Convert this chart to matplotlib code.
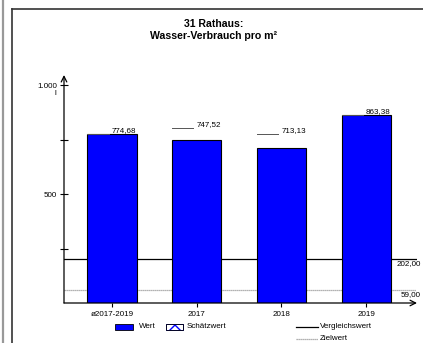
import matplotlib.pyplot as plt
from matplotlib.patches import Rectangle
from matplotlib.lines import Line2D

plt.rcParams['font.family'] = ['Liberation Sans', 'DejaVu Sans']

categories = ['ø2017-2019', '2017', '2018', '2019']
values = [774.68, 747.52, 713.13, 863.38]
vergleichswert = 202.0
zielwert = 59.0
title = '31 Rathaus:\nWasser-Verbrauch pro m²'

W, H = 423, 343

def fx(px):
    return px / W

def fy(py):
    return 1 - py / H

def fmt(v):
    return f'{v:,.2f}'.replace(',', 'X').replace('.', ',').replace('X', '.')

fig = plt.figure(figsize=(W / 100, H / 100), dpi=100)

# outer frame
fig.add_artist(Line2D([fx(3), fx(3)], [0, 1], color='#999999', lw=1.6))
fig.add_artist(Line2D([fx(11.5), fx(11.5)], [0, fy(9)], color='#333333', lw=1.2))
fig.add_artist(Line2D([fx(11.5), 1], [fy(9), fy(9)], color='#333333', lw=1.2))

fig.text(fx(214), fy(30), title, ha='center', va='center', fontsize=7.6,
         fontweight='bold', linespacing=1.2)

ax_w = 417 - 64
ax = fig.add_axes([fx(64), fy(303), fx(417) - fx(64), fy(75) - fy(303)])
x = list(range(len(categories)))
ax.bar(x, values, width=0.58, color='#0000ff', edgecolor='black', lw=0.8, zorder=3)
ax.set_xlim(-0.567, 3.6)
ax.set_ylim(0, 1046)

ax.axhline(vergleichswert, xmax=1 - 1 / ax_w, color='black', lw=0.9, zorder=1)
ax.axhline(zielwert, xmax=1 - 1 / ax_w, color='#999999', lw=0.9, ls=(0, (1, 0.6)), zorder=1)

for s in ax.spines.values():
    s.set_visible(False)
ax.annotate('', xy=(0, 1), xytext=(0, 0), xycoords='axes fraction',
            arrowprops=dict(arrowstyle='->', lw=0.9, color='black', shrinkA=0, shrinkB=0))
ax.annotate('', xy=(1, 0), xytext=(0, 0), xycoords='axes fraction',
            arrowprops=dict(arrowstyle='->', lw=0.9, color='black', shrinkA=0, shrinkB=0))

ax.set_yticks([500, 1000])
ax.set_yticklabels(['500', '1.000'])
ax.set_yticks([250, 750], minor=True)
ax.tick_params(axis='y', which='both', direction='inout', length=6, width=0.8,
               labelsize=5.8, pad=2)
ax.set_xticks(x)
ax.set_xticklabels(categories)
ax.tick_params(axis='x', direction='out', length=3, width=0.8, labelsize=5.8, pad=3)
ax.text(-9 / ax_w, 1000 - 38, 'l', transform=ax.get_yaxis_transform(), ha='center',
        va='center', fontsize=5.8)

# value labels with leader lines
label_lift = [0, 55, 62, 0]
for xi, v, lift in zip(x, values, label_lift):
    yl = v + lift
    right = xi + 0.29
    ax.text(right, yl + 1, fmt(v), ha='right', va='bottom', fontsize=5.8, zorder=4)
    ax.plot([xi - 0.29, right - 0.33], [yl, yl], color='#555555', lw=0.7, zorder=4)

# reference value labels (kept inside the canvas)
for val in [vergleichswert, zielwert]:
    ax.text((421 - 64) / ax_w, val - 6, fmt(val), transform=ax.get_yaxis_transform(),
            ha='right', va='top', fontsize=5.8, clip_on=False)

# legend
fig.add_artist(Rectangle((fx(115), fy(330)), fx(18), fy(324) - fy(330),
                         facecolor='#0000ff', edgecolor='black', lw=0.6))
fig.text(fx(139), fy(327), 'Wert', ha='left', va='center', fontsize=5.8)
fig.add_artist(Rectangle((fx(166), fy(330)), fx(17), fy(324) - fy(330),
                         facecolor='white', edgecolor='#0000ff', lw=0.6, hatch='xx'))
fig.add_artist(Rectangle((fx(166), fy(330)), fx(17), fy(324) - fy(330),
                         facecolor='none', edgecolor='black', lw=0.6))
fig.text(fx(187), fy(327), 'Schätzwert', ha='left', va='center', fontsize=5.8)
fig.add_artist(Line2D([fx(296), fx(318)], [fy(327), fy(327)], color='black', lw=0.9))
fig.text(fx(320), fy(327), 'Vergleichswert', ha='left', va='center', fontsize=5.8)
fig.add_artist(Line2D([fx(296), fx(318)], [fy(338.5), fy(338.5)], color='#999999',
                      lw=0.9, ls=(0, (1, 0.6))))
fig.text(fx(320), fy(338.5), 'Zielwert', ha='left', va='center', fontsize=5.8)

fig.savefig('out.png', dpi=100)
